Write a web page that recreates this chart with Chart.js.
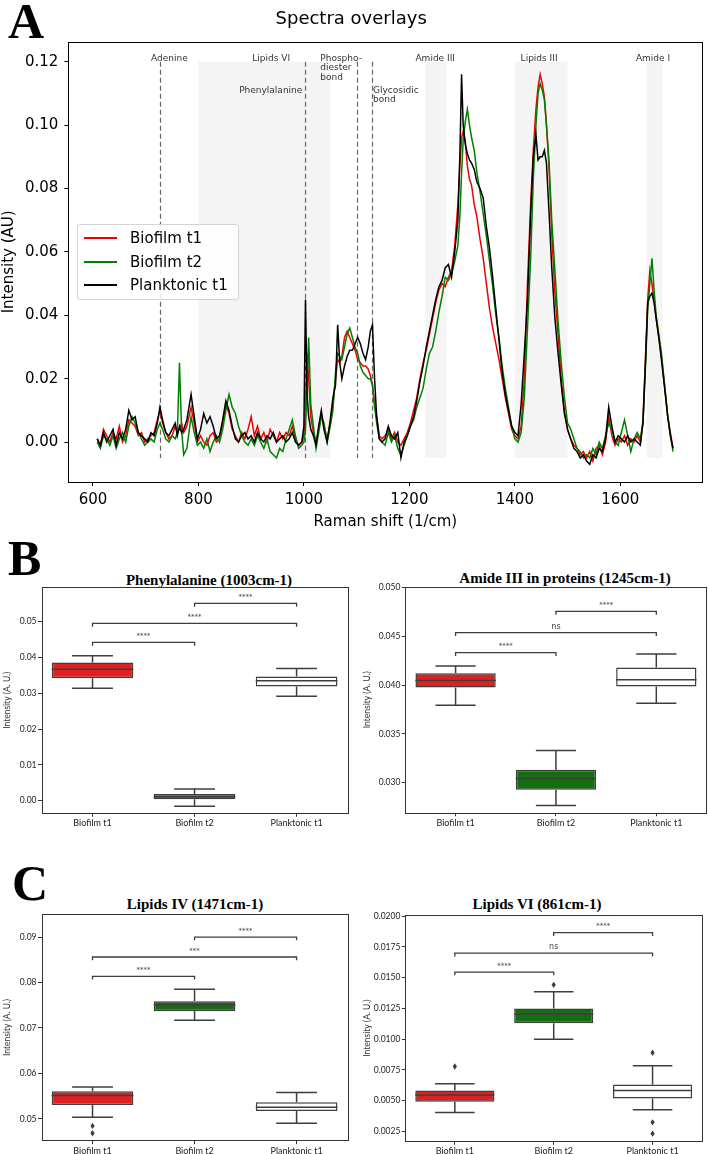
<!DOCTYPE html>
<html>
<head>
<meta charset="utf-8">
<script src="https://cdn.jsdelivr.net/npm/chart.js@4.4.0/dist/chart.umd.min.js"></script>
<style>
  body { margin: 0; background: #fff; }
  #page { position: relative; width: 708px; height: 1154px; overflow: hidden; font-family: 'DejaVu Sans', sans-serif; }
  canvas { position: absolute; }
  .panel-letter { position: absolute; font-family: 'Liberation Serif', serif; font-weight: bold; font-size: 50px; line-height: 50px; color: #000; }
  .box-title { position: absolute; font-family: 'Liberation Serif', serif; font-weight: bold; font-size: 15px; white-space: nowrap; transform: translate(-50%, -50%); color: #000; }
  #legend { position: absolute; left: 77px; top: 224px; width: 160px; height: 74px; border: 1px solid #d4d4d4; border-radius: 3px; background: rgba(255,255,255,0.85); }
  #legend .item { position: absolute; left: 0; height: 20px; font-size: 15px; line-height: 20px; white-space: nowrap; }
  #legend .swatch { position: absolute; left: 6px; top: 9px; width: 33px; height: 2px; }
  #legend .label { position: absolute; left: 52px; top: 0; }
</style>
</head>
<body>
<div id="page">
  <canvas id="spectra" width="708" height="535" style="left:0;top:0"></canvas>
  <div class="panel-letter" style="left:8px;top:-4px">A</div>
  <div class="panel-letter" style="left:8px;top:533px">B</div>
  <div class="panel-letter" style="left:12px;top:858px">C</div>
  <div class="box-title" style="left:209px;top:580px">Phenylalanine (1003cm-1)</div>
  <div class="box-title" style="left:565px;top:578px">Amide III in proteins (1245cm-1)</div>
  <div class="box-title" style="left:195px;top:904px">Lipids IV (1471cm-1)</div>
  <div class="box-title" style="left:537px;top:904px">Lipids VI (861cm-1)</div>
  <div id="legend"></div>
</div>
<script>
// ---- Panel A: spectra ----
const wavenumbers = [
  608, 614, 620, 626, 632, 638, 644, 650, 656, 662,
  668, 674, 680, 686, 692, 698, 704, 710, 716, 722,
  727, 732, 738, 744, 750, 756, 760, 764, 768, 772,
  778, 786, 792, 798, 804, 810, 816, 822, 828, 834,
  840, 846, 852, 858, 864, 870, 876, 882, 888, 894,
  900, 906, 912, 918, 924, 930, 936, 942, 948, 954,
  960, 966, 972, 978, 984, 990, 996, 1000, 1003, 1006,
  1009, 1013, 1018, 1023, 1028, 1033, 1038, 1044, 1050, 1055,
  1060, 1064, 1068, 1072, 1077, 1082, 1087, 1092, 1097, 1102,
  1107, 1112, 1117, 1122, 1126, 1130, 1134, 1138, 1143, 1148,
  1154, 1160, 1166, 1172, 1178, 1184, 1190, 1196, 1202, 1208,
  1214, 1220, 1226, 1232, 1238, 1244, 1250, 1256, 1262, 1268,
  1274, 1280, 1286, 1292, 1296, 1299, 1302, 1306, 1310, 1314,
  1318, 1323, 1328, 1334, 1340, 1346, 1352, 1358, 1364, 1370,
  1376, 1382, 1388, 1394, 1400, 1406, 1412, 1418, 1424, 1430,
  1435, 1440, 1444, 1448, 1452, 1456, 1460, 1465, 1470, 1476,
  1482, 1488, 1494, 1500, 1506, 1512, 1518, 1524, 1530, 1536,
  1542, 1548, 1554, 1560, 1566, 1572, 1578, 1584, 1590, 1596,
  1602, 1608, 1614, 1620, 1626, 1632, 1638, 1643, 1648, 1652,
  1656, 1660, 1664, 1668, 1673, 1678, 1684, 1690, 1695, 1700
];

const biofilmT1 = [
  0.001, -0.001, 0.004, 0.002, 0.000, 0.003, 0.001, 0.005, 0.000, 0.002,
  0.007, 0.006, 0.005, 0.002, 0.003, 0.000, 0.001, 0.002, 0.003, 0.007,
  0.010, 0.006, 0.003, 0.001, 0.002, 0.005, 0.003, 0.004, 0.006, 0.003,
  0.005, 0.011, 0.006, 0.000, 0.002, 0.000, -0.001, 0.002, 0.003, 0.000,
  0.001, 0.006, 0.012, 0.009, 0.004, 0.002, 0.000, 0.003, 0.001, 0.004,
  0.008, 0.002, 0.005, 0.001, 0.003, 0.000, 0.004, 0.002, 0.000, 0.003,
  0.001, 0.003, 0.002, 0.005, 0.001, -0.001, 0.000, 0.002, 0.010, 0.028,
  0.020, 0.008, 0.003, 0.000, 0.004, 0.009, 0.005, 0.001, 0.006, 0.012,
  0.020, 0.026, 0.025, 0.027, 0.033, 0.035, 0.033, 0.031, 0.029, 0.026,
  0.025, 0.024, 0.024, 0.023, 0.021, 0.018, 0.012, 0.008, 0.002, 0.001,
  0.002, 0.004, 0.001, 0.003, 0.000, -0.001, 0.001, 0.003, 0.006, 0.010,
  0.014, 0.020, 0.025, 0.029, 0.034, 0.039, 0.044, 0.048, 0.050, 0.049,
  0.052, 0.054, 0.062, 0.075, 0.088, 0.096, 0.098, 0.095, 0.087, 0.083,
  0.081, 0.075, 0.071, 0.064, 0.058, 0.050, 0.042, 0.036, 0.031, 0.026,
  0.020, 0.014, 0.009, 0.004, 0.002, 0.001, 0.005, 0.020, 0.050, 0.075,
  0.092, 0.105, 0.112, 0.116, 0.113, 0.109, 0.100, 0.086, 0.066, 0.047,
  0.034, 0.020, 0.010, 0.004, 0.001, -0.001, -0.002, -0.004, -0.003, -0.005,
  -0.003, -0.006, -0.002, -0.001, -0.004, 0.000, 0.008, 0.002, -0.001, 0.001,
  0.000, 0.002, -0.001, 0.001, 0.000, 0.002, 0.000, 0.007, 0.028, 0.045,
  0.054, 0.050, 0.045, 0.039, 0.033, 0.027, 0.018, 0.008, 0.003, -0.002
];

const biofilmT2 = [
  0.000, -0.002, 0.002, 0.001, -0.001, 0.002, -0.002, 0.001, 0.003, 0.000,
  0.005, 0.008, 0.006, 0.003, 0.001, -0.001, 0.000, 0.001, 0.000, 0.004,
  0.006, 0.004, 0.001, 0.000, 0.002, 0.001, 0.003, 0.025, 0.004, -0.004,
  -0.002, 0.008, 0.003, -0.001, 0.000, -0.002, 0.001, -0.003, 0.000, 0.002,
  0.000, 0.004, 0.010, 0.015, 0.011, 0.009, 0.005, 0.002, 0.000, -0.001,
  0.001, -0.001, 0.002, 0.000, -0.002, 0.001, -0.003, -0.004, -0.005, -0.002,
  -0.003, 0.001, 0.004, 0.007, 0.002, -0.002, -0.001, 0.000, 0.004, 0.018,
  0.033, 0.012, 0.005, -0.002, 0.003, 0.008, 0.006, 0.000, 0.005, 0.010,
  0.022, 0.028, 0.027, 0.026, 0.030, 0.034, 0.036, 0.033, 0.030, 0.028,
  0.024, 0.022, 0.021, 0.020, 0.020, 0.018, 0.011, 0.006, 0.001, 0.000,
  -0.001, 0.003, 0.000, 0.002, -0.002, -0.004, -0.001, 0.002, 0.005, 0.007,
  0.011, 0.014, 0.017, 0.023, 0.028, 0.030, 0.035, 0.041, 0.046, 0.052,
  0.051, 0.053, 0.057, 0.062, 0.072, 0.085, 0.095, 0.101, 0.105, 0.100,
  0.096, 0.092, 0.085, 0.079, 0.072, 0.065, 0.057, 0.049, 0.040, 0.033,
  0.024, 0.017, 0.011, 0.005, 0.001, 0.000, 0.003, 0.014, 0.036, 0.058,
  0.083, 0.100, 0.110, 0.113, 0.111, 0.108, 0.100, 0.088, 0.070, 0.054,
  0.038, 0.025, 0.014, 0.006, 0.004, 0.001, -0.002, -0.003, -0.005, -0.004,
  -0.005, -0.002, -0.004, 0.000, -0.002, 0.002, 0.006, 0.004, 0.000, -0.001,
  0.003, 0.007, 0.002, -0.003, 0.001, 0.003, 0.001, 0.006, 0.025, 0.042,
  0.050, 0.058, 0.048, 0.040, 0.034, 0.028, 0.018, 0.008, 0.002, -0.003
];

const planktonicT1 = [
  0.001, -0.001, 0.003, 0.000, 0.002, 0.004, -0.001, 0.003, 0.001, 0.004,
  0.010, 0.007, 0.008, 0.003, 0.002, 0.001, 0.000, 0.003, 0.002, 0.006,
  0.011, 0.007, 0.003, 0.002, 0.004, 0.006, 0.002, 0.005, 0.003, 0.004,
  0.007, 0.015, 0.008, 0.001, 0.004, 0.009, 0.006, 0.008, 0.005, 0.001,
  0.002, 0.007, 0.013, 0.010, 0.005, 0.001, 0.000, 0.002, 0.003, 0.001,
  0.002, 0.000, 0.003, 0.001, 0.000, 0.002, 0.001, 0.003, 0.000, 0.001,
  0.002, 0.000, 0.001, 0.003, 0.000, -0.001, 0.000, 0.005, 0.045, 0.015,
  0.008, 0.004, 0.002, -0.001, 0.005, 0.010, 0.004, 0.000, 0.007, 0.014,
  0.018, 0.037, 0.025, 0.020, 0.024, 0.027, 0.029, 0.029, 0.031, 0.033,
  0.031, 0.028, 0.026, 0.030, 0.035, 0.037, 0.020, 0.008, 0.001, 0.000,
  0.001, 0.005, 0.002, 0.001, 0.003, -0.005, 0.000, 0.002, 0.005, 0.008,
  0.013, 0.019, 0.024, 0.030, 0.035, 0.040, 0.045, 0.049, 0.051, 0.055,
  0.056, 0.052, 0.060, 0.070, 0.092, 0.116, 0.100, 0.094, 0.091, 0.089,
  0.088, 0.086, 0.082, 0.080, 0.077, 0.068, 0.061, 0.052, 0.042, 0.032,
  0.022, 0.015, 0.010, 0.005, 0.003, 0.002, 0.012, 0.028, 0.045, 0.072,
  0.090, 0.097, 0.089, 0.090, 0.090, 0.092, 0.088, 0.072, 0.055, 0.039,
  0.028, 0.018, 0.009, 0.004, 0.001, -0.002, -0.003, -0.005, -0.004, -0.006,
  -0.007, -0.004, -0.005, -0.002, -0.003, 0.001, 0.011, 0.005, 0.000, 0.002,
  0.001, 0.000, 0.002, 0.000, 0.001, 0.000, -0.001, 0.006, 0.026, 0.044,
  0.046, 0.047, 0.044, 0.039, 0.033, 0.026, 0.017, 0.008, 0.002, -0.002
];

const seriesNames = ['Biofilm t1', 'Biofilm t2', 'Planktonic t1'];
const seriesColors = ['#f00000', '#008000', '#000000'];

const ramanTicks = [600, 800, 1000, 1200, 1400, 1600];
const intensityTicks = [0, 0.02, 0.04, 0.06, 0.08, 0.10, 0.12];

// shaded bands and marker lines
const bandStart = [800, 1230, 1400, 1650];
const bandEnd = [1050, 1270, 1500, 1680];
const markerLines = [727, 1003, 1100, 1130];
const labelText = ['Adenine', 'Lipids VI', 'Phenylalanine', 'Phospho-\ndiester\nbond', 'Glycosidic\nbond', 'Amide III', 'Lipids III', 'Amide I'];
const labelX = [745, 938, 997, 1031, 1131, 1249, 1446, 1662];
const labelY = [0.121, 0.121, 0.111, 0.121, 0.111, 0.121, 0.121, 0.121];
const labelAlign = ['center', 'center', 'right', 'left', 'left', 'center', 'center', 'center'];

Chart.defaults.font.family = "'DejaVu Sans', sans-serif";

const spectraDecor = {
  id: 'spectraDecor',
  beforeDatasetsDraw(chart) {
    const {ctx, scales: {x, y}} = chart;
    ctx.save();
    const top = y.getPixelForValue(0.12), bottom = y.getPixelForValue(-0.005);
    ctx.fillStyle = 'rgba(0,0,0,0.045)';
    bandStart.forEach((s, i) => {
      const x0 = x.getPixelForValue(s), x1 = x.getPixelForValue(bandEnd[i]);
      ctx.fillRect(x0, top, x1 - x0, bottom - top);
    });
    ctx.strokeStyle = '#666';
    ctx.lineWidth = 1.2;
    ctx.setLineDash([5, 3]);
    markerLines.forEach(v => {
      const px = Math.round(x.getPixelForValue(v)) + 0.5;
      ctx.beginPath();
      ctx.moveTo(px, top);
      ctx.lineTo(px, bottom);
      ctx.stroke();
    });
    ctx.setLineDash([]);
    ctx.fillStyle = '#333';
    ctx.font = "9px 'DejaVu Sans'";
    ctx.textBaseline = 'middle';
    labelText.forEach((t, i) => {
      ctx.textAlign = labelAlign[i];
      t.split('\n').forEach((line, k) => {
        ctx.fillText(line, x.getPixelForValue(labelX[i]), y.getPixelForValue(labelY[i]) + k * 9.5);
      });
    });
    ctx.restore();
  },
  afterDraw(chart) {
    const {ctx, chartArea: a} = chart;
    ctx.save();
    ctx.strokeStyle = '#000';
    ctx.lineWidth = 1;
    ctx.strokeRect(Math.round(a.left) + 0.5, Math.round(a.top) + 0.5, Math.round(a.right - a.left), Math.round(a.bottom - a.top));
    ctx.restore();
  }
};

const seriesValues = [biofilmT1, biofilmT2, planktonicT1];

new Chart(document.getElementById('spectra'), {
  type: 'line',
  data: {
    datasets: seriesValues.map((vals, k) => ({
      label: seriesNames[k],
      data: wavenumbers.map((w, i) => ({x: w, y: vals[i]})),
      borderColor: seriesColors[k],
      borderWidth: 1.5,
      pointRadius: 0,
      tension: 0,
      order: 3 - k
    }))
  },
  options: {
    responsive: false,
    animation: false,
    layout: {padding: {left: 0, right: 5.7, top: 0, bottom: 0}},
    plugins: {
      legend: {display: false},
      tooltip: {enabled: false},
      title: {
        display: true,
        text: 'Spectra overlays',
        color: '#000',
        font: {size: 18, weight: 'normal'},
        padding: {top: 9, bottom: 11.1}
      }
    },
    scales: {
      x: {
        type: 'linear',
        min: 553.4,
        max: 1755.5,
        afterBuildTicks: s => { s.ticks = ramanTicks.map(v => ({value: v})); },
        ticks: {callback: v => String(v), color: '#000', font: {size: 15}, padding: 5, maxRotation: 0},
        grid: {drawOnChartArea: false, tickLength: 4, color: '#000'},
        border: {display: false},
        title: {display: true, text: 'Raman shift (1/cm)', color: '#000', font: {size: 15}, padding: {top: 0, bottom: 4}},
        afterFit: s => { s.height = 53; }
      },
      y: {
        min: -0.0126,
        max: 0.1263,
        afterBuildTicks: s => { s.ticks = intensityTicks.map(v => ({value: v})); },
        ticks: {callback: v => v.toFixed(2), color: '#000', font: {size: 15}, padding: 6},
        grid: {drawOnChartArea: false, tickLength: 4, color: '#000'},
        border: {display: false},
        title: {display: true, text: 'Intensity (AU)', color: '#000', font: {size: 15}, padding: {top: 0, bottom: 0}},
        afterFit: s => { s.width = 68.4; }
      }
    }
  },
  plugins: [spectraDecor]
});

// legend, drawn as matplotlib places it inside the axes
const legendBox = document.getElementById('legend');
seriesNames.forEach((name, k) => {
  const item = document.createElement('div');
  item.className = 'item';
  item.style.top = (3 + k * 23.5) + 'px';
  item.innerHTML = '<span class="swatch" style="background:' + seriesColors[k] + '"></span><span class="label">' + name + '</span>';
  legendBox.appendChild(item);
});

// ---- Panels B and C: box plots ----
const groups = ['Biofilm t1', 'Biofilm t2', 'Planktonic t1'];
const boxFills = ['#df2020', '#107010', '#ffffff'];
const boxLine = '#3d3d3d';
const bracketPairs = [[0, 1], [0, 2], [1, 2]];

// Phenylalanine (1003cm-1)
const pheLow = [0.0314, -0.0015, 0.0292];
const pheQ1 = [0.0342, 0.0004, 0.0319];
const pheMed = [0.0367, 0.0011, 0.0335];
const pheQ3 = [0.0386, 0.0019, 0.0347];
const pheHigh = [0.0405, 0.0033, 0.0369];
const pheFliers = [[], [], []];
const pheBracketY = [0.0442, 0.0495, 0.0551];
const pheBracketText = ['****', '****', '****'];
const pheTicks = [0, 0.01, 0.02, 0.03, 0.04, 0.05];

// Amide III in proteins (1245cm-1)
const amideLow = [0.03793, 0.02764, 0.03814];
const amideQ1 = [0.03974, 0.02925, 0.03985];
const amideMed = [0.04046, 0.0304, 0.04054];
const amideQ3 = [0.04121, 0.0313, 0.0418];
const amideHigh = [0.04197, 0.03328, 0.0432];
const amideFliers = [[], [], []];
const amideBracketY = [0.04333, 0.04538, 0.04757];
const amideBracketText = ['****', 'ns', '****'];
const amideTicks = [0.030, 0.035, 0.040, 0.045, 0.050];

// Lipids IV (1471cm-1)
const lip4Low = [0.05037, 0.07172, 0.04905];
const lip4Q1 = [0.05308, 0.0737, 0.05176];
const lip4Med = [0.05513, 0.07509, 0.05256];
const lip4Q3 = [0.05608, 0.0759, 0.05366];
const lip4High = [0.05703, 0.07853, 0.05579];
const lip4Fliers = [[0.04846, 0.04685], [], []];
const lip4BracketY = [0.08136, 0.08561, 0.0900];
const lip4BracketText = ['****', '***', '****'];
const lip4Ticks = [0.05, 0.06, 0.07, 0.08, 0.09];

// Lipids VI (861cm-1)
const lip6Low = [0.00405, 0.0100, 0.00427];
const lip6Q1 = [0.00492, 0.01129, 0.00518];
const lip6Med = [0.00546, 0.01204, 0.00583];
const lip6Q3 = [0.00584, 0.0125, 0.00631];
const lip6High = [0.00638, 0.01385, 0.00785];
const lip6Fliers = [[0.00778], [0.01442], [0.0089, 0.00324, 0.00232]];
const lip6BracketY = [0.01546, 0.0170, 0.01867];
const lip6BracketText = ['****', 'ns', '****'];
const lip6Ticks = [0.0025, 0.0050, 0.0075, 0.0100, 0.0125, 0.0150, 0.0175, 0.0200];

const boxFont = "Lato, 'DejaVu Sans', sans-serif";

function boxDecor(b) {
  return {
    id: 'boxDecor',
    afterDatasetsDraw(chart) {
      const {ctx, chartArea: a, scales: {x, y}} = chart;
      const step = x.getPixelForValue(1) - x.getPixelForValue(0);
      const seg = (x0, y0, x1, y1) => { ctx.beginPath(); ctx.moveTo(x0, y0); ctx.lineTo(x1, y1); ctx.stroke(); };
      ctx.save();
      ctx.strokeStyle = boxLine;
      ctx.fillStyle = boxLine;
      ctx.lineWidth = 1.5;
      b.med.forEach((m, i) => {
        const cx = x.getPixelForValue(i);
        const half = step * 0.4, cap = step * 0.2;
        seg(cx - half, y.getPixelForValue(m), cx + half, y.getPixelForValue(m));
        seg(cx, y.getPixelForValue(b.q3[i]), cx, y.getPixelForValue(b.high[i]));
        seg(cx - cap, y.getPixelForValue(b.high[i]), cx + cap, y.getPixelForValue(b.high[i]));
        seg(cx, y.getPixelForValue(b.q1[i]), cx, y.getPixelForValue(b.low[i]));
        seg(cx - cap, y.getPixelForValue(b.low[i]), cx + cap, y.getPixelForValue(b.low[i]));
        b.fliers[i].forEach(f => {
          const fy = y.getPixelForValue(f);
          ctx.beginPath();
          ctx.moveTo(cx, fy - 3.2);
          ctx.lineTo(cx + 2.1, fy);
          ctx.lineTo(cx, fy + 3.2);
          ctx.lineTo(cx - 2.1, fy);
          ctx.closePath();
          ctx.fill();
        });
      });
      ctx.lineWidth = 1.3;
      ctx.textAlign = 'center';
      ctx.textBaseline = 'middle';
      b.bracketY.forEach((v, k) => {
        const [p, q] = bracketPairs[k];
        const xa = x.getPixelForValue(p), xb = x.getPixelForValue(q), yy = y.getPixelForValue(v);
        ctx.beginPath();
        ctx.moveTo(xa, yy + 3.3);
        ctx.lineTo(xa, yy);
        ctx.lineTo(xb, yy);
        ctx.lineTo(xb, yy + 3.3);
        ctx.stroke();
        ctx.font = b.bracketText[k] === 'ns' ? "8px 'DejaVu Sans'" : "7px 'DejaVu Sans'";
        ctx.fillText(b.bracketText[k], (xa + xb) / 2, yy - 6);
      });
      ctx.strokeStyle = '#333';
      ctx.lineWidth = 1;
      ctx.strokeRect(Math.round(a.left) + 0.5, Math.round(a.top) + 0.5, Math.round(a.right - a.left), Math.round(a.bottom - a.top));
      ctx.restore();
    }
  };
}

function makeBoxChart(b) {
  const cv = document.createElement('canvas');
  cv.width = b.cw;
  cv.height = b.ch;
  cv.style.left = b.cl + 'px';
  cv.style.top = b.ct + 'px';
  document.getElementById('page').appendChild(cv);
  new Chart(cv, {
    type: 'bar',
    data: {
      labels: groups,
      datasets: [{
        data: b.q1.map((v, i) => [v, b.q3[i]]),
        backgroundColor: boxFills,
        borderColor: boxLine,
        borderWidth: 1.5,
        borderSkipped: false,
        barPercentage: 0.8,
        categoryPercentage: 1
      }]
    },
    options: {
      responsive: false,
      animation: false,
      layout: {padding: {left: 0, top: b.ft - b.ct, right: b.cl + b.cw - b.fr, bottom: 0}},
      plugins: {legend: {display: false}, tooltip: {enabled: false}},
      scales: {
        x: {
          grid: {offset: false, drawOnChartArea: false, tickLength: 3.5, color: '#333'},
          border: {display: false},
          ticks: {color: '#222', font: {size: 9, family: boxFont}, padding: 1, maxRotation: 0},
          afterFit: s => { s.height = b.ct + b.ch - b.fb; }
        },
        y: {
          min: b.min,
          max: b.max,
          afterBuildTicks: s => { s.ticks = b.ticks.map(v => ({value: v})); },
          ticks: {callback: v => v.toFixed(b.dec), color: '#222', font: {size: 8.5, family: boxFont}, padding: 1.5},
          grid: {drawOnChartArea: false, tickLength: 3.5, color: '#333'},
          border: {display: false},
          title: {display: true, text: 'Intensity (A. U.)', color: '#333', font: {size: 8.5, family: boxFont}, padding: {top: 2, bottom: 0}},
          afterFit: s => { s.width = b.fl - b.cl; }
        }
      }
    },
    plugins: [boxDecor(b)]
  });
}

makeBoxChart({
  low: pheLow, q1: pheQ1, med: pheMed, q3: pheQ3, high: pheHigh, fliers: pheFliers,
  bracketY: pheBracketY, bracketText: pheBracketText, ticks: pheTicks, dec: 2,
  min: -0.0035, max: 0.0596,
  cl: 0, ct: 580, cw: 352, ch: 250, fl: 41.5, ft: 587.3, fr: 347.6, fb: 813.3
});
makeBoxChart({
  low: amideLow, q1: amideQ1, med: amideMed, q3: amideQ3, high: amideHigh, fliers: amideFliers,
  bracketY: amideBracketY, bracketText: amideBracketText, ticks: amideTicks, dec: 3,
  min: 0.0269, max: 0.0501,
  cl: 360, ct: 580, cw: 348, ch: 250, fl: 405.4, ft: 586.7, fr: 706.5, fb: 812.7
});
makeBoxChart({
  low: lip4Low, q1: lip4Q1, med: lip4Med, q3: lip4Q3, high: lip4High, fliers: lip4Fliers,
  bracketY: lip4BracketY, bracketText: lip4BracketText, ticks: lip4Ticks, dec: 2,
  min: 0.0452, max: 0.0950,
  cl: 0, ct: 907, cw: 352, ch: 247, fl: 41.5, ft: 914.3, fr: 347.6, fb: 1140.7
});
makeBoxChart({
  low: lip6Low, q1: lip6Q1, med: lip6Med, q3: lip6Q3, high: lip6High, fliers: lip6Fliers,
  bracketY: lip6BracketY, bracketText: lip6BracketText, ticks: lip6Ticks, dec: 4,
  min: 0.0017, max: 0.0201,
  cl: 360, ct: 907, cw: 348, ch: 247, fl: 405.4, ft: 915, fr: 702, fb: 1141.3
});
</script>
</body>
</html>
